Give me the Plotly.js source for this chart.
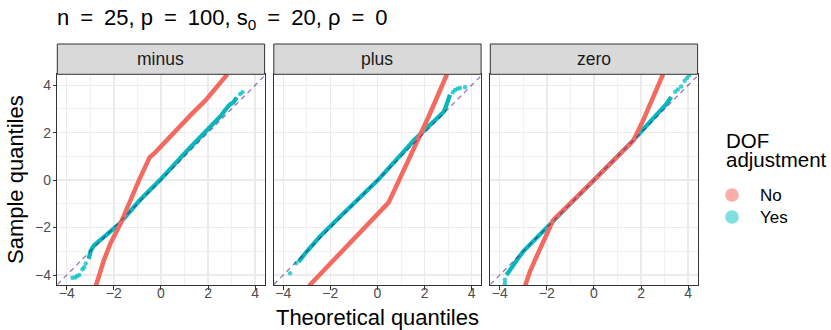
<!DOCTYPE html>
<html>
<head>
<meta charset="utf-8">
<script src="https://cdn.plot.ly/plotly-3.0.1.min.js"></script>
<style>html,body{margin:0;padding:0;background:#fff;}#chart{width:831px;height:330px;}</style>
</head>
<body>
<div id="chart"></div>
<script>
// ---------------- data ----------------
const facetNames = ['minus', 'plus', 'zero'];
const groupNames = ['No', 'Yes'];
const legendTitle = ['DOF', 'adjustment'];
const xTickVals = [-4, -2, 0, 2, 4];
const yTickVals = [-4, -2, 0, 2, 4];
const diagX = [-4.4, 4.4];
const diagY = [-4.4, 4.4];

// facet "minus"
const minusNoX  = [-2.76, -2.63, -2.42, -2.14, -1.71, -0.93, -0.48, -0.24, 0.61, 1.31, 1.88, 2.44, 2.82];
const minusNoY  = [-4.45, -4.00, -3.37, -2.66, -1.82,  0.00,  0.96,  1.17, 2.08, 2.79, 3.35, 4.05, 4.46];
const minusYesX = [-3.07, -2.98, -2.84, -1.99, -1.78, -0.90, 0.00, 1.17, 2.30, 2.58, 2.80, 2.94, 3.08, 3.22];
const minusYesY = [-3.32, -2.97, -2.75, -2.08, -1.86, -0.85, 0.05, 1.30, 2.45, 2.75, 3.05, 3.20, 3.28, 3.49];
const minusYesTailX = [-3.19, -3.26, -3.33, -3.47, -3.56, -3.64, -3.76, 3.36, 3.46];
const minusYesTailY = [-3.51, -3.67, -3.76, -4.00, -4.04, -4.10, -4.11, 3.63, 3.70];

// facet "plus"
const plusNoX  = [-2.90, -1.88, -0.89, 0.24, 0.47, 0.68, 1.25, 1.67, 2.16, 2.59, 2.95];
const plusNoY  = [-4.45, -3.37, -2.38, -1.19, -0.95, -0.51, 0.68, 1.66, 2.65, 3.63, 4.46];
const plusYesX = [-3.36, -3.29, -3.01, -2.44, -1.59, 0.00, 1.60, 2.80, 2.87, 2.94, 3.08];
const plusYesY = [-3.44, -3.37, -3.02, -2.38, -1.54, -0.02, 1.73, 2.86, 3.00, 3.21, 3.60];
const plusYesTailX = [-3.45, -3.71, 3.20, 3.29, 3.40, 3.50, 3.72];
const plusYesTailY = [-3.50, -3.93, 3.70, 3.80, 3.85, 3.88, 3.91];

// facet "zero"
const zeroNoX  = [-2.92, -2.72, -2.44, -2.01, -1.73, 0.00, 1.67, 2.08, 2.44, 2.93];
const zeroNoY  = [-4.45, -3.86, -3.23, -2.31, -1.68, 0.00, 1.66, 2.50, 3.30, 4.46];
const zeroYesX = [-3.71, -3.57, -3.42, -3.28, -3.00, -1.73, 0.00, 1.67, 2.65, 3.07, 3.28];
const zeroYesY = [-4.00, -3.78, -3.60, -3.38, -3.00, -1.72, 0.00, 1.68, 2.75, 3.20, 3.50];
const zeroYesTailX = [-3.78, -3.78, 3.45, 3.56, 3.70, 3.85, 3.95, 4.05];
const zeroYesTailY = [-4.20, -4.35, 3.72, 3.82, 3.95, 4.19, 4.30, 4.42];

// ---------------- styling / layout ----------------
const W = 831, H = 330;
const colNo = '#F36A61', colYes = '#06B7BC';
const keyNo = 'rgba(248,118,109,0.6)', keyYes = 'rgba(0,191,196,0.5)';
const fontFam = '"Liberation Sans", Arial, Helvetica, sans-serif';
const panelLeft = [57.3, 273.8, 490.3];
const panelW = 207.3;
const plotTop = 74.3, plotBottom = 285, stripTop = 44;
const fx = p => p / W;
const fy = p => 1 - p / H;
const sp = '\u2002';

const series = [
  {noX: minusNoX, noY: minusNoY, yesX: minusYesX, yesY: minusYesY, tX: minusYesTailX, tY: minusYesTailY},
  {noX: plusNoX,  noY: plusNoY,  yesX: plusYesX,  yesY: plusYesY,  tX: plusYesTailX,  tY: plusYesTailY},
  {noX: zeroNoX,  noY: zeroNoY,  yesX: zeroYesX,  yesY: zeroYesY,  tX: zeroYesTailX,  tY: zeroYesTailY}
];

const traces = [];
series.forEach((s, i) => {
  const xa = i === 0 ? 'x' : 'x' + (i + 1);
  const ya = i === 0 ? 'y' : 'y' + (i + 1);
  traces.push({x: s.yesX, y: s.yesY, xaxis: xa, yaxis: ya, mode: 'lines', name: groupNames[1], showlegend: false,
    line: {color: colYes, width: 4.3}, hoverinfo: 'skip'});
  traces.push({x: s.tX, y: s.tY, xaxis: xa, yaxis: ya, mode: 'markers', name: groupNames[1], showlegend: false,
    marker: {color: 'rgba(0,191,196,0.75)', size: 4.5}, hoverinfo: 'skip'});
  traces.push({x: s.noX, y: s.noY, xaxis: xa, yaxis: ya, mode: 'lines', name: groupNames[0], showlegend: false,
    line: {color: colNo, width: 4.5}, hoverinfo: 'skip'});
  traces.push({x: diagX, y: diagY, xaxis: xa, yaxis: ya, mode: 'lines', showlegend: false,
    line: {color: 'rgba(70,10,120,0.55)', width: 1.3, dash: '5px,4px'}, hoverinfo: 'skip'});
});

const layout = {
  width: W, height: H,
  margin: {l: 0, r: 0, t: 0, b: 0},
  paper_bgcolor: '#fff', plot_bgcolor: '#fff',
  font: {family: fontFam, color: '#000'},
  title: {text: 'n' + sp + '=' + sp + '25, p' + sp + '=' + sp + '100, s<sub>0</sub>' + sp + '=' + sp + '20, ρ' + sp + '=' + sp + '0',
    x: fx(57), xanchor: 'left',
    xref: 'container', yref: 'container', y: fy(17.5), yanchor: 'middle',
    font: {size: 22, color: '#000', family: fontFam}},
  showlegend: false,
  shapes: [], annotations: []
};

facetNames.forEach((name, i) => {
  const sfx = i === 0 ? '' : String(i + 1);
  const common = {
    showline: true, mirror: true, linecolor: '#333333', linewidth: 1,
    showgrid: true, gridcolor: '#EBEBEB', gridwidth: 1.4, zeroline: false,
    tickfont: {size: 14, color: '#4D4D4D', family: fontFam}, fixedrange: true,
    minor: {tickvals: [-3, -1, 1, 3], showgrid: true, gridcolor: '#EBEBEB', gridwidth: 0.7}
  };
  layout['xaxis' + sfx] = Object.assign({}, common, {
    domain: [fx(panelLeft[i]), fx(panelLeft[i] + panelW)],
    range: [-4.4, 4.4], tickvals: xTickVals, ticks: 'outside', ticklen: 3.5, tickwidth: 1, tickcolor: '#333333',
    ticklabelstandoff: -8, anchor: 'y' + sfx
  });
  layout['yaxis' + sfx] = Object.assign({}, common, {
    domain: [fy(plotBottom), fy(plotTop)],
    range: [-4.42, 4.46], tickvals: yTickVals, anchor: 'x' + sfx,
    ticks: i === 0 ? 'outside' : '', ticklen: 3.5, tickwidth: 1, tickcolor: '#333333',
    ticklabelstandoff: -1, showticklabels: i === 0
  });
  // strip
  layout.shapes.push({type: 'rect', xref: 'paper', yref: 'paper',
    x0: fx(panelLeft[i]), x1: fx(panelLeft[i] + panelW), y0: fy(plotTop), y1: fy(stripTop),
    fillcolor: '#D9D9D9', line: {color: '#333333', width: 1}, layer: 'above'});
  layout.annotations.push({text: name, xref: 'paper', yref: 'paper',
    x: fx(panelLeft[i] + panelW / 2), y: fy((plotTop + stripTop) / 2), xanchor: 'center', yanchor: 'middle',
    showarrow: false, font: {size: 17.5, color: '#1A1A1A', family: fontFam}});
});

layout.xaxis2.title = {text: 'Theoretical quantiles', font: {size: 22, color: '#000', family: fontFam}, standoff: 10};
layout.yaxis.title = {text: 'Sample quantiles', font: {size: 22, color: '#000', family: fontFam}, standoff: 5};

// legend (drawn manually: title, keys, labels)
const legX = 724, keyX = 732, labX = 758;
const legTitleY = [140, 159];
const keyY = [195, 217];
const keyCols = [keyNo, keyYes];
legendTitle.forEach((t, k) => {
  layout.annotations.push({text: t, xref: 'paper', yref: 'paper', x: fx(legX), y: fy(legTitleY[k]),
    xanchor: 'left', yanchor: 'middle', showarrow: false, font: {size: 20.5, color: '#000', family: fontFam}});
});
groupNames.forEach((g, k) => {
  layout.shapes.push({type: 'circle', xref: 'paper', yref: 'paper', xsizemode: 'pixel', ysizemode: 'pixel',
    xanchor: fx(keyX), yanchor: fy(keyY[k]), x0: -6.8, x1: 6.8, y0: -6.8, y1: 6.8,
    fillcolor: keyCols[k], line: {width: 0}});
  layout.annotations.push({text: g, xref: 'paper', yref: 'paper', x: fx(labX), y: fy(keyY[k]),
    xanchor: 'left', yanchor: 'middle', showarrow: false, font: {size: 17, color: '#000', family: fontFam}});
});

Plotly.newPlot('chart', traces, layout, {displayModeBar: false, staticPlot: true});
</script>
</body>
</html>
